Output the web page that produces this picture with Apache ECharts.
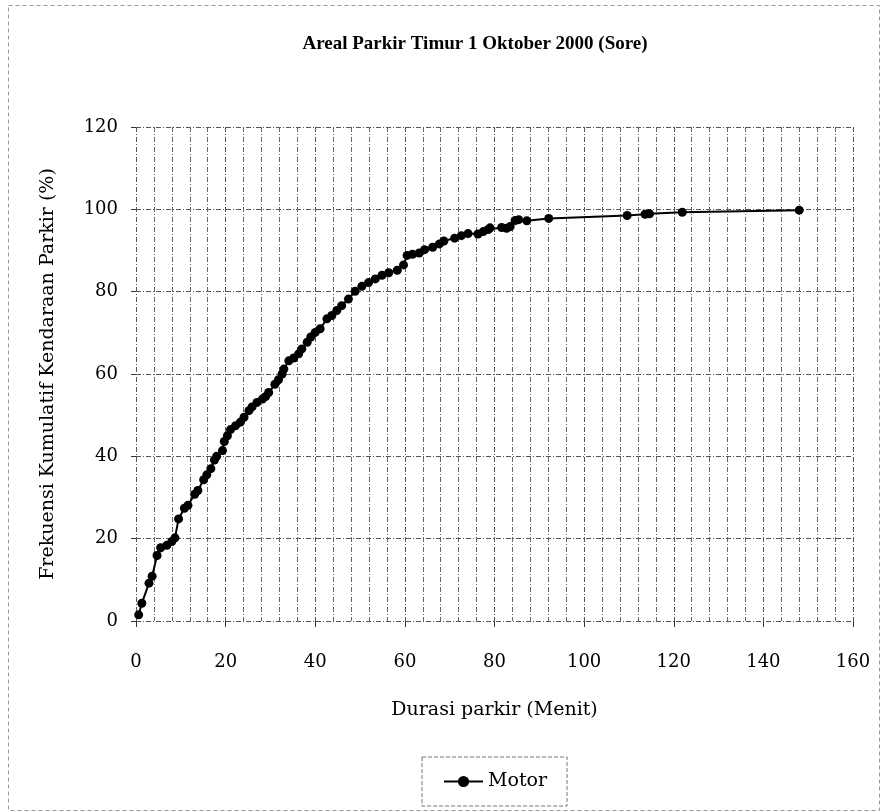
<!DOCTYPE html>
<html>
<head>
<meta charset="utf-8">
<script src="https://cdn.jsdelivr.net/npm/echarts@6/dist/echarts.min.js"></script>
<style>
html,body{margin:0;padding:0;background:#fff;}
#chart{width:883px;height:812px;}
</style>
</head>
<body>
<div id="chart"></div>
<script>
// Durasi parkir (menit)
var durasi = [0.6,1.3,2.9,3.6,4.7,5.5,6.9,8.0,8.7,9.5,10.8,11.6,13.1,13.8,15.1,15.8,16.7,17.5,18.0,19.3,19.7,20.4,21.1,22.2,23.3,24.1,25.2,25.9,27.0,28.2,28.9,29.6,31.0,31.8,32.6,33.0,34.1,35.2,36.3,37.0,38.2,39.0,40.0,41.1,42.6,43.7,44.8,45.9,47.4,48.9,50.4,51.9,53.4,54.9,56.4,58.3,59.7,60.5,61.7,63.2,64.4,66.2,67.7,68.7,71.1,72.6,74.1,76.3,77.5,78.6,79.0,81.6,82.7,83.5,84.6,85.4,87.2,92.1,109.6,113.6,114.6,121.9,148.0];
// Frekuensi kumulatif (%)
var frekuensi = [1.5,4.3,9.2,10.9,15.9,17.8,18.4,19.3,20.2,24.8,27.4,28.1,30.8,31.7,34.3,35.5,37.0,39.1,40.0,41.4,43.6,45.0,46.5,47.4,48.3,49.5,51.1,52.0,53.1,53.9,54.5,55.5,57.5,58.6,60.0,61.2,63.2,63.9,64.9,66.1,67.7,69.0,70.1,71.0,73.4,74.2,75.4,76.6,78.2,80.1,81.3,82.2,83.1,84.0,84.6,85.2,86.5,88.8,89.1,89.4,90.2,90.8,91.6,92.3,93.0,93.6,94.1,94.0,94.6,95.1,95.5,95.6,95.4,95.8,97.3,97.5,97.2,97.8,98.5,98.8,98.9,99.3,99.8];
var seriesName = 'Motor';
var titleText = 'Areal Parkir Timur 1 Oktober 2000 (Sore)';
var xName = 'Durasi parkir (Menit)';
var yName = 'Frekuensi Kumulatif Kendaraan Parkir (%)';

var points = durasi.map(function(d, i){ return [d, frekuensi[i]]; });

var gridLine = {show:true, lineStyle:{color:'#555', width:1, type:[5,2,1,2]}};
var serif = 'DejaVu Serif';

var chart = echarts.init(document.getElementById('chart'), null, {renderer:'canvas'});
chart.setOption({
  animation:false,
  backgroundColor:'#fff',
  title:{
    text:titleText, left:470, top:30, textAlign:'center',
    textStyle:{fontFamily:'Liberation Serif', fontWeight:'bold', fontSize:19, color:'#000'}
  },
  grid:{left:136, right:30, top:127, bottom:191, containLabel:false},
  xAxis:{
    type:'value', min:0, max:160, interval:20,
    name:xName, nameLocation:'middle', nameGap:80,
    nameTextStyle:{fontFamily:serif, fontSize:19, color:'#000'},
    axisLine:{show:false},
    axisTick:{show:true, length:6, lineStyle:{color:'#333'}},
    minorTick:{show:false, splitNumber:5},
    minorSplitLine:{show:true, lineStyle:{color:'#666', width:1, type:[5,2,1,2]}},
    splitLine:gridLine,
    axisLabel:{margin:32, fontFamily:serif, fontSize:18, color:'#000'}
  },
  yAxis:{
    type:'value', min:0, max:120, interval:20,
    name:yName, nameLocation:'middle', nameGap:78, nameRotate:90,
    nameTextStyle:{fontFamily:serif, fontSize:19, color:'#000'},
    axisLine:{show:false},
    axisTick:{show:true, length:5, lineStyle:{color:'#333'}},
    splitLine:gridLine,
    axisLabel:{margin:18, fontFamily:serif, fontSize:18, color:'#000'}
  },
  legend:{
    show:true, left:422, top:757,
    padding:[15,20,15,21],
    borderColor:'#777', borderWidth:1, borderType:'dashed',
    itemWidth:39, itemHeight:14,
    textStyle:{fontFamily:serif, fontSize:19, color:'#000'},
    data:[seriesName]
  },
  graphic:[{
    type:'rect', left:6, top:3, silent:true,
    shape:{width:871, height:805},
    style:{fill:'none', stroke:'#999', lineWidth:1, lineDash:[4,3]}
  }],
  series:[{
    name:seriesName, type:'line', data:points,
    symbol:'circle', symbolSize:9, showSymbol:true,
    itemStyle:{color:'#000'},
    lineStyle:{color:'#000', width:2}
  }]
});
</script>
</body>
</html>
